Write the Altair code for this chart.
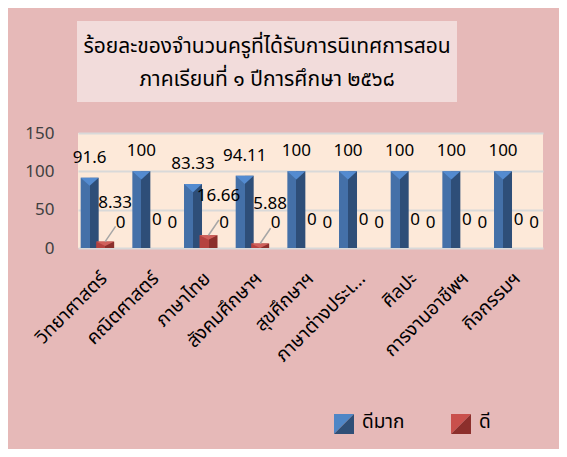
import altair as alt
import pandas as pd

categories = ["วิทยาศาสตร์", "คณิตศาสตร์", "ภาษาไทย", "สังคมศึกษาฯ", "สุขศึกษาฯ",
              "ภาษาต่างประเทศ", "ศิลปะ", "การงานอาชีพฯ", "กิจกรรมฯ"]
series = ["ดีมาก", "ดี", "พอใช้"]
very_good = [91.6, 100, 83.33, 94.11, 100, 100, 100, 100, 100]
good = [8.33, 0, 16.66, 5.88, 0, 0, 0, 0, 0]
fair = [0, 0, 0, 0, 0, 0, 0, 0, 0]
title_lines = ["ร้อยละของจำนวนครูที่ได้รับการนิเทศการสอน", "ภาคเรียนที่ ๑ ปีการศึกษา ๒๕๖๘"]
y_ticks = [0, 50, 100, 150]

rows = []
for s, vals in zip(series, [very_good, good, fair]):
    for c, v in zip(categories, vals):
        rows.append({"cat": c, "series": s, "value": v})
df = pd.DataFrame(rows)
one = pd.DataFrame({"k": [0]})

FONT = "Tahoma, 'Noto Sans Thai', 'Noto Sans', sans-serif"
PW, PH = 465, 115

x = alt.X("cat:N", sort=categories, title=None,
          scale=alt.Scale(domain=categories, paddingInner=0, paddingOuter=0),
          axis=alt.Axis(labelAngle=-45, labelAlign="right", labelBaseline="middle",
                        labelFontSize=19, labelColor="#000000", labelFont=FONT,
                        ticks=False, domain=False, grid=False, labelPadding=27,
                        labelExpr="datum.label == 'ภาษาต่างประเทศ' ? 'ภาษาต่างประเ...' : datum.label"))
xo = alt.XOffset("series:N", sort=series,
                 scale=alt.Scale(domain=series, paddingInner=0, paddingOuter=0.167, align=0.76))
y = alt.Y("value:Q", title=None, scale=alt.Scale(domain=[0, 150], nice=False),
          axis=alt.Axis(values=y_ticks, labelFontSize=17, labelColor="#404040", labelFont=FONT,
                        ticks=False, domain=False, grid=True, gridColor="#D9D9D9",
                        gridWidth=2, labelPadding=24))

base = alt.Chart(df).encode(x=x, xOffset=xo, y=y)

blue_grad = alt.Gradient(gradient="linear", x1=0, x2=1, y1=0, y2=0,
                         stops=[alt.GradientStop(offset=0, color="#4470A8"),
                                alt.GradientStop(offset=0.5, color="#4470A8"),
                                alt.GradientStop(offset=0.5, color="#2E4E78"),
                                alt.GradientStop(offset=1, color="#2E4E78")])
red_grad = alt.Gradient(gradient="linear", x1=0, x2=1, y1=0, y2=0,
                        stops=[alt.GradientStop(offset=0, color="#B5423F"),
                               alt.GradientStop(offset=0.5, color="#B5423F"),
                               alt.GradientStop(offset=0.5, color="#8C2F2C"),
                               alt.GradientStop(offset=1, color="#8C2F2C")])

is_blue = "datum.series == 'ดีมาก'"
is_red_nz = "datum.series == 'ดี' && datum.value > 0"
is_red_z = "datum.series == 'ดี' && datum.value == 0"
is_fair = "datum.series == 'พอใช้'"

blue_bars = base.transform_filter(is_blue).mark_bar(width=18, color=blue_grad)
blue_top = base.transform_filter(is_blue).mark_point(
    shape="M-1,0L1,0L0,0.9Z", size=324, filled=True, color="#548BD0", opacity=1, strokeWidth=0)
red_bars = base.transform_filter(is_red_nz).mark_bar(width=18, color=red_grad)
red_top = base.transform_filter(is_red_nz).mark_point(
    shape="M-1,0L1,0L0,0.5Z", size=324, filled=True, color="#D0605B", opacity=1, strokeWidth=0)
leaders = base.transform_filter(is_red_nz).mark_point(
    shape="M0,0L0.65,-0.95", size=1024, filled=False, color="#A6A6A6", opacity=1, strokeWidth=1.5)

txt = dict(fontSize=17, font=FONT, color="#000000", baseline="middle", align="center")
blue_lab = base.transform_filter(is_blue).mark_text(dy=-20, **txt).encode(text="value:Q")
red_lab_nz = base.transform_filter(is_red_nz).mark_text(dy=-39, dx=10, **txt).encode(text="value:Q")
red_lab_z = base.transform_filter(is_red_z).mark_text(dy=-28, **txt).encode(text="value:Q")
fair_lab = base.transform_filter(is_fair).mark_text(dy=-25, **txt).encode(text="value:Q")

title_box = alt.Chart(one).mark_rect(color="#F2DCDB").encode(
    x=alt.value(-1), x2=alt.value(379), y=alt.value(-112), y2=alt.value(-31))
title_txt = alt.Chart(one).mark_text(
    text=title_lines, fontSize=21, fontWeight="normal", font=FONT, color="#000000",
    align="center", baseline="middle", lineHeight=33).encode(x=alt.value(189), y=alt.value(-86))

tri_light = "M-1,-1L1,-1L-1,1Z"
tri_dark = "M1,-1L1,1L-1,1Z"
leg = []
for name, lx, light, dark in [(series[0], 266, "#4F86C6", "#2F4F77"),
                              (series[1], 383, "#C9504C", "#8C2F2C")]:
    leg.append(alt.Chart(one).mark_point(shape=tri_light, size=400, filled=True, color=light,
                                         opacity=1, strokeWidth=0)
               .encode(x=alt.value(lx), y=alt.value(291)))
    leg.append(alt.Chart(one).mark_point(shape=tri_dark, size=400, filled=True, color=dark,
                                         opacity=1, strokeWidth=0)
               .encode(x=alt.value(lx), y=alt.value(291)))
    leg.append(alt.Chart(one).mark_text(text=name, fontSize=19, font=FONT, color="#000000",
                                        align="left", baseline="middle")
               .encode(x=alt.value(lx + 18), y=alt.value(289)))

chart = alt.layer(
    title_box, title_txt,
    blue_bars, blue_top, red_bars, red_top, leaders,
    blue_lab, red_lab_nz, red_lab_z, fair_lab, *leg
).properties(
    width=PW, height=PH,
    autosize=alt.AutoSizeParams(type="none"),
    padding={"left": 70, "top": 125, "right": 16, "bottom": 201},
    background="#E6B9B8",
).configure_view(fill="#FDE9D9", stroke=None)

chart.save("out.html", embed_options={"renderer": "svg", "actions": False})
